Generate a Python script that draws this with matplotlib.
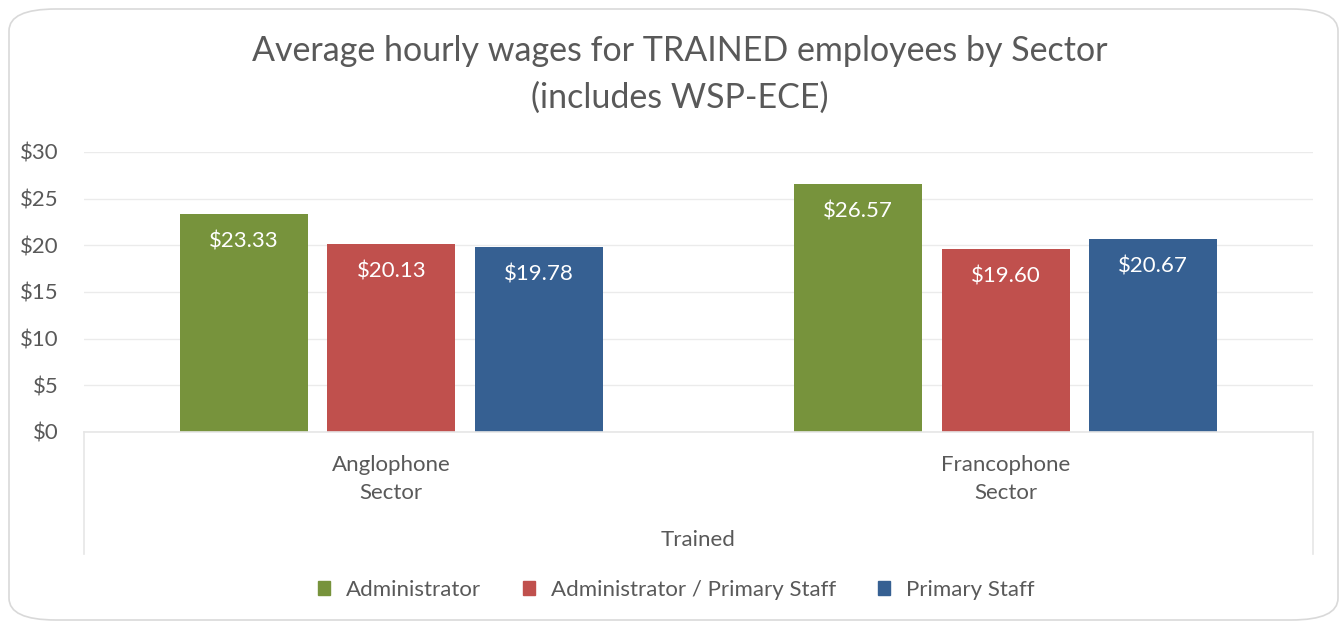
import matplotlib.pyplot as plt
import numpy as np
from matplotlib.patches import FancyBboxPatch
from matplotlib.lines import Line2D

# Datos
sectors = ["Anglophone\nSector", "Francophone\nSector"]
series = ["Administrator", "Administrator / Primary Staff", "Primary Staff"]
administrator = [23.33, 26.57]
admin_primary = [20.13, 19.60]
primary_staff = [19.78, 20.67]
outer_label = "Trained"
title = "Average hourly wages for TRAINED employees by Sector\n(includes WSP-ECE)"

colors = ["#77933C", "#C0504D", "#366092"]
txt = "#595959"
plt.rcParams['font.family'] = ['Lato', 'DejaVu Sans']

W, H = 1341, 623
fig = plt.figure(figsize=(W / 100, H / 100), dpi=100)

# Borde redondeado del gráfico
fig.patches.append(FancyBboxPatch((9 / W, 3 / H), (W - 12) / W, (H - 12) / H,
                                  boxstyle="round,pad=0,rounding_size=0.035",
                                  transform=fig.transFigure, facecolor="white",
                                  edgecolor="#D9D9D9", linewidth=1.2, zorder=-5))

ax = fig.add_axes([84 / W, 191 / H, 1229 / W, 280 / H])
ax.set_facecolor("none")

x = np.arange(len(sectors))
bw = 0.208
step = 0.24
for i, (vals, c) in enumerate(zip([administrator, admin_primary, primary_staff], colors)):
    pos = x + (i - 1) * step
    bars = ax.bar(pos, vals, bw, color=c, label=series[i], zorder=2)
    for b, v in zip(bars, vals):
        ax.text(b.get_x() + b.get_width() / 2, v - 2.9, f"${v:.2f}",
                ha="center", va="center", color="white", fontsize=16, zorder=3)

ax.set_xlim(-0.5, 1.5)
ax.set_ylim(0, 30)
ax.set_yticks(range(0, 31, 5))
ax.set_yticklabels([f"${t}" for t in range(0, 31, 5)])
ax.tick_params(axis="y", length=0, pad=18, labelsize=16, labelcolor=txt)
ax.set_xticks([])
ax.grid(axis="y", color="#EBEBEB", linewidth=1, zorder=0)
ax.set_axisbelow(True)
for s in ["top", "right", "left"]:
    ax.spines[s].set_visible(False)
ax.spines["bottom"].set_color("#E6E6E6")
ax.spines["bottom"].set_linewidth(1.2)

# Etiquetas de categorías (multinivel)
for xi, lab in zip(x, sectors):
    ax.text(xi, -2.5, lab, ha="center", va="top", color=txt, fontsize=16,
            linespacing=1.45)
ax.text(0.5, -11.6, outer_label, ha="center", va="center", color=txt, fontsize=16)

for xf in [84 / W, 1313 / W]:
    fig.add_artist(Line2D([xf, xf], [(H - 554) / H, 191 / H], color="#E6E6E6", lw=1.2))

fig.text(680 / W, (H - 74) / H, title, ha="center", va="center", fontsize=24.5,
         color=txt, linespacing=1.56)

handles = [plt.Rectangle((0, 0), 1, 1, color=c) for c in colors]
fig.legend(handles, series, loc="center", bbox_to_anchor=(676 / W, (H - 590) / H),
           ncol=3, frameon=False, fontsize=16, labelcolor=txt, handlelength=0.55,
           handleheight=0.55, handletextpad=0.7, columnspacing=1.9)

fig.savefig("out.png", dpi=100)
